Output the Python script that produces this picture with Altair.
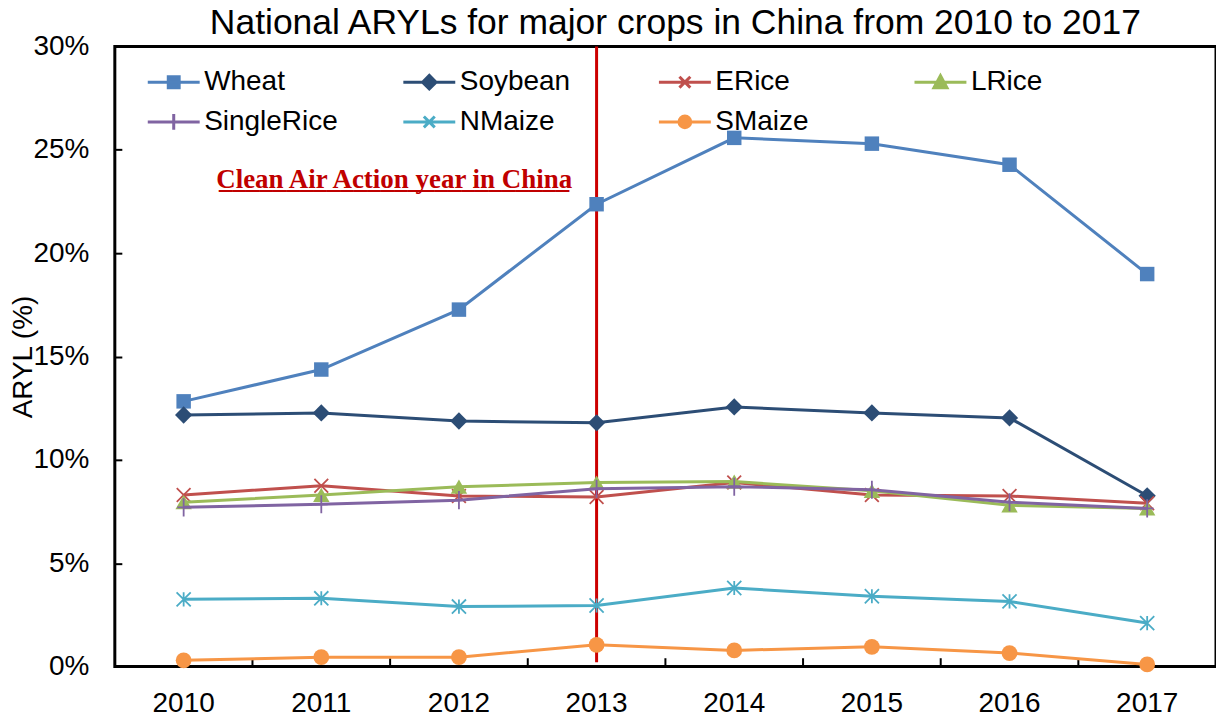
import altair as alt
import pandas as pd

years = ["2010", "2011", "2012", "2013", "2014", "2015", "2016", "2017"]
series_names = ["Wheat", "Soybean", "ERice", "LRice", "SingleRice", "NMaize", "SMaize"]
wheat = [12.83, 14.37, 17.27, 22.37, 25.58, 25.3, 24.28, 18.99]
soybean = [12.17, 12.27, 11.88, 11.79, 12.56, 12.27, 12.03, 8.26]
erice = [8.3, 8.75, 8.25, 8.2, 8.9, 8.3, 8.25, 7.9]
lrice = [7.95, 8.3, 8.7, 8.9, 8.95, 8.5, 7.8, 7.65]
singlerice = [7.7, 7.85, 8.05, 8.6, 8.7, 8.55, 7.95, 7.65]
nmaize = [3.25, 3.3, 2.9, 2.95, 3.8, 3.4, 3.15, 2.1]
smaize = [0.3, 0.45, 0.45, 1.05, 0.78, 0.95, 0.65, 0.1]
values = [wheat, soybean, erice, lrice, singlerice, nmaize, smaize]
colors = ["#4F81BD", "#2C4D75", "#C0504D", "#9BBB59", "#8064A2", "#4BACC6", "#F79646"]
y_ticks = [0, 5, 10, 15, 20, 25, 30]
title_text = "National ARYLs for major crops in China from 2010 to 2017"
annotation = "Clean Air Action year in China"
policy_year = "2013"

rows = []
for name, vals in zip(series_names, values):
    for yr, v in zip(years, vals):
        rows.append({"year": yr, "series": name, "value": v})
df = pd.DataFrame(rows)

W, H = 1103, 621
FONT = "Liberation Sans"

# marker styles: (shape, filled, size, strokeWidth)
plot_markers = {
    "Wheat": ("square", True, 210, 0),
    "Soybean": ("diamond", True, 300, 0),
    "ERice": ("M-1,-1L1,1M-1,1L1,-1", False, 190, 1.8),
    "LRice": ("triangle-up", True, 270, 0),
    "SingleRice": ("M-0.7,0L0.7,0M0,-1L0,1", False, 330, 1.8),
    "NMaize": ("M-1,-1L1,1M-1,1L1,-1M0,-1L0,1", False, 200, 1.8),
    "SMaize": ("circle", True, 250, 0),
}
legend_paths = [
    "M-2,0L2,0M-0.42,-0.42L0.42,-0.42L0.42,0.42L-0.42,0.42Z",
    "M-2,0L2,0M-0.52,0L0,-0.52L0.52,0L0,0.52Z",
    "M-2,0L2,0M-0.42,-0.42L0.42,0.42M-0.42,0.42L0.42,-0.42",
    "M-2,0L2,0M-0.5,0.42L0,-0.5L0.5,0.42Z",
    "M-2,0L2,0M0,-0.6L0,0.6",
    "M-2,0L2,0M-0.42,-0.42L0.42,0.42M-0.42,0.42L0.42,-0.42",
    "M-2,0L2,0M-0.45,0A0.45,0.45 0 1,0 0.45,0A0.45,0.45 0 1,0 -0.45,0Z",
]

xscale = alt.Scale(type="band", domain=years, paddingInner=0, paddingOuter=0)
yscale = alt.Scale(domain=[0, 30], nice=False, zero=True)

main_x_axis = alt.Axis(orient="bottom", labelAngle=0, ticks=False, domain=False,
                       labelFont=FONT, labelFontSize=28, labelColor="black",
                       labelPadding=23, title=None, grid=False)
main_y_axis = alt.Axis(orient="left", values=y_ticks, labelExpr="datum.value + '%'",
                       ticks=False, domain=False, grid=False,
                       labelFont=FONT, labelFontSize=28, labelColor="black", labelPadding=26,
                       title="ARYL (%)", titleFont=FONT, titleFontSize=28,
                       titleFontWeight="normal", titleColor="black",
                       titleX=-91, titleY=310.5, titleAngle=270,
                       titleAlign="center", titleBaseline="middle")
tick_y_axis = alt.Axis(orient="right", offset=-W, values=y_ticks, labels=False,
                       domain=False, ticks=True, tickSize=7, tickWidth=2,
                       tickColor="black", title=None, grid=False)

base = alt.Chart(df)
layers = []

# invisible layer carrying the inward y tick axis
layers.append(
    base.mark_line(strokeOpacity=0).encode(
        x=alt.X("year:O", scale=xscale, axis=None),
        y=alt.Y("value:Q", scale=yscale, axis=tick_y_axis),
        detail="series:N",
    )
)

# red policy line
layers.append(
    alt.Chart(pd.DataFrame({"year": [policy_year]})).mark_rule(color="#CC0000", strokeWidth=3).encode(
        x=alt.X("year:O", scale=xscale, axis=None),
        y=alt.Y(datum=30, type="quantitative", scale=yscale, axis=None),
        y2=alt.Y2(datum=0.2),
    )
)

# inward x ticks at category boundaries (half a band left of each category centre)
layers.append(
    alt.Chart(pd.DataFrame({"year": years[1:]})).mark_rule(
        color="black", strokeWidth=2, xOffset=-W / len(years) / 2).encode(
        x=alt.X("year:O", scale=xscale, axis=None),
        y=alt.Y(datum=0.4, type="quantitative", scale=yscale, axis=None),
        y2=alt.Y2(datum=0.001),
    )
)

for i, (name, col) in enumerate(zip(series_names, colors)):
    sub = base.transform_filter(alt.datum.series == name)
    xa = main_x_axis if i == 0 else None
    ya = main_y_axis if i == 0 else None
    layers.append(
        sub.mark_line(color=col, strokeWidth=3).encode(
            x=alt.X("year:O", scale=xscale, axis=xa),
            y=alt.Y("value:Q", scale=yscale, axis=ya),
        )
    )
    shp, filled, size, sw = plot_markers[name]
    if filled:
        pm = sub.mark_point(shape=shp, filled=True, size=size, color=col, opacity=1)
    else:
        pm = sub.mark_point(shape=shp, filled=False, size=size, color=col, opacity=1, strokeWidth=sw)
    layers.append(
        pm.encode(
            x=alt.X("year:O", scale=xscale, axis=None),
            y=alt.Y("value:Q", scale=yscale, axis=None),
        )
    )

legend = alt.Legend(orient="none", legendX=33, legendY=21, direction="horizontal",
                    columns=4, gridAlign="all", columnPadding=59, rowPadding=11,
                    labelFont=FONT, labelFontSize=28, labelColor="black", labelOffset=16,
                    symbolOffset=11.5, symbolSize=676, symbolStrokeWidth=3,
                    symbolOpacity=1, title=None, padding=0, labelLimit=300)
layers.append(
    base.transform_filter("false").mark_point(filled=True, opacity=1, strokeWidth=3).encode(
        x=alt.X("year:O", scale=xscale, axis=None),
        y=alt.Y("value:Q", scale=yscale, axis=None),
        fill=alt.Fill("series:N", scale=alt.Scale(domain=series_names, range=colors), legend=legend),
        stroke=alt.Stroke("series:N", scale=alt.Scale(domain=series_names, range=colors), legend=legend),
        shape=alt.Shape("series:N", scale=alt.Scale(domain=series_names, range=legend_paths), legend=legend),
    )
)

ann_df = pd.DataFrame({"label": [annotation], "under": ["_" * 26]})
ann_base = alt.Chart(ann_df)
for fld in ["label", "under"]:
    layers.append(
        ann_base.mark_text(font="Liberation Serif", fontWeight="bold", fontSize=27,
                           color="#C00000", align="center", baseline="alphabetic", dx=73).encode(
            x=alt.X(datum="2011", type="ordinal", scale=xscale, axis=None),
            y=alt.Y(datum=23.15, type="quantitative", scale=yscale, axis=None),
            text=f"{fld}:N",
        )
    )

chart = alt.layer(*layers).resolve_axis(x="independent", y="independent").properties(
    width=W, height=H,
    title=alt.Title(title_text, font=FONT, fontSize=35.5, fontWeight="normal", color="black",
                    anchor="middle", frame="group", dx=10, dy=15, offset=6),
    autosize=alt.AutoSizeParams(type="none"),
    padding={"left": 107, "top": 38, "right": 0, "bottom": 50},
).configure(background="white").configure_view(stroke="black", strokeWidth=3)

chart.save("out.html", embed_options={"renderer": "svg", "actions": False})
